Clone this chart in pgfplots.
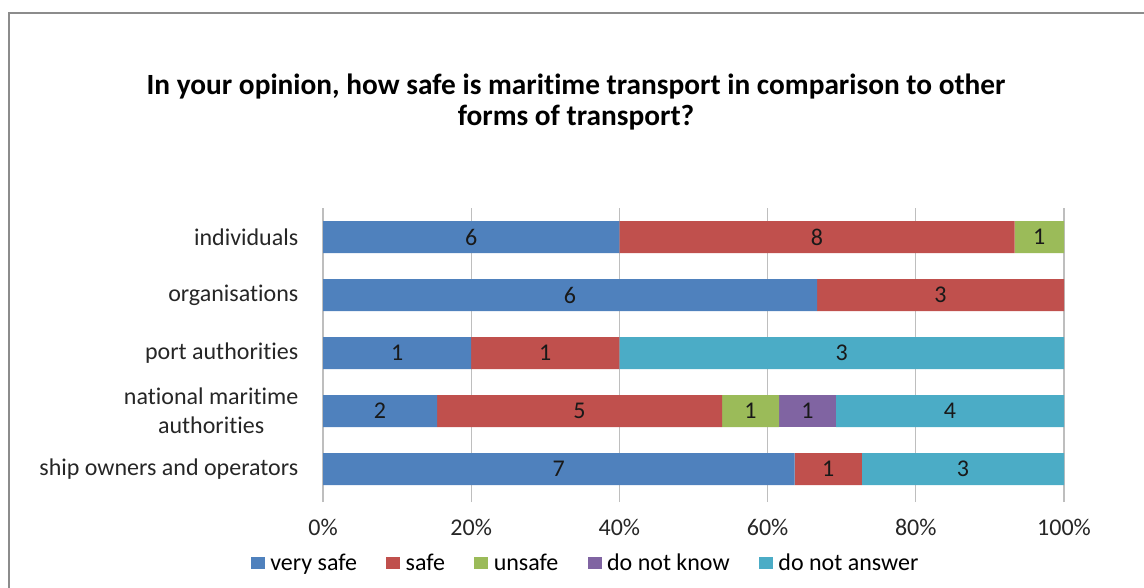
\documentclass[border=0pt]{standalone}
\usepackage{fontspec}
\setmainfont{Carlito}[Ligatures=NoCommon]
\usepackage{pgfplots}
\usepackage{pgfplotstable}
\pgfplotsset{compat=1.18}

\definecolor{cvs}{HTML}{4F81BD}
\definecolor{csf}{HTML}{C0504D}
\definecolor{cun}{HTML}{9BBB59}
\definecolor{cdk}{HTML}{8064A2}
\definecolor{cna}{HTML}{4BACC6}
\definecolor{gridc}{RGB}{190,190,190}

% share of answers per group (percent), with the counts shown on the bars
\pgfplotstableread{
y  va     na  vb     nb  vc    nc  vd    nd  ve     ne
4  40     6   53.333 8   6.667 1   0     0   0      0
3  66.667 6   33.333 3   0     0   0     0   0      0
2  20     1   20     1   0     0   0     0   60     3
1  15.385 2   38.462 5   7.692 1   7.692 1   30.769 4
0  63.636 7   9.091  1   0     0   0     0   27.273 3
}\answers

\pgfplotsset{
  seg/.style={
    visualization depends on={\thisrow{#1}\as\cnt},
  },
}

\begin{document}
\begin{tikzpicture}[font=\fontsize{18}{21.6}\selectfont]
  \useasboundingbox (0,0) rectangle (858pt,-440.25pt);
  \draw[color=gray!90, line width=1.8pt] (6.9pt,-445pt) -- (6.9pt,-9.9pt) -- (865pt,-9.9pt);
  \node[font=\bfseries\fontsize{22}{23.3}\selectfont, align=center] at (432pt,-76.5pt)
    {In your opinion, how safe is maritime transport in comparison to other\\forms of transport?};

  \begin{axis}[
    at={(242.25pt,-373.5pt)}, anchor=south west,
    scale only axis, width=555.75pt, height=217.5pt,
    xbar stacked, bar width=0.552,
    xmin=0, xmax=100, ymin=-0.5, ymax=4.5,
    axis lines*=left,
    x axis line style={draw=none},
    y axis line style={draw=gridc, line width=0.9pt},
    xtick={0,20,...,100},
    xticklabel={\pgfmathprintnumber{\tick}\%},
    /pgf/number format/assume math mode=true,
    xmajorgrids, major grid style={draw=gridc, line width=0.9pt},
    tick align=outside,
    x tick style={draw=gridc, line width=0.9pt},
    major tick length=3pt,
    xticklabel style={yshift=-9pt, text=black!85},
    ytick={0,1,2,3,4},
    yticklabels={ship owners and operators, {national maritime\\authorities}, port authorities, organisations, individuals},
    y tick style={draw=none},
    yticklabel style={align=center, xshift=-12pt, text=black!85},
    nodes near coords={\ifdim\cnt pt>0pt \pgfmathprintnumber{\cnt}\fi},
    every node near coord/.append style={anchor=center, text=black!90},
    legend columns=-1,
    legend style={draw=none, at={(0.355,-0.224)}, anchor=center,
      /tikz/every odd column/.append style={column sep=2pt},
      /tikz/every even column/.append style={column sep=20pt}},
    legend image code/.code={\fill[#1] (0pt,-4.5pt) rectangle (10.5pt,4.5pt);},
  ]
    \addplot[fill=cvs, draw=none, seg=na] table[x=va, y=y] {\answers};
    \addplot[fill=csf, draw=none, seg=nb] table[x=vb, y=y] {\answers};
    \addplot[fill=cun, draw=none, seg=nc] table[x=vc, y=y] {\answers};
    \addplot[fill=cdk, draw=none, seg=nd] table[x=vd, y=y] {\answers};
    \addplot[fill=cna, draw=none, seg=ne] table[x=ve, y=y] {\answers};
    \legend{very safe, safe, unsafe, do not know, do not answer}
  \end{axis}
\end{tikzpicture}
\end{document}
